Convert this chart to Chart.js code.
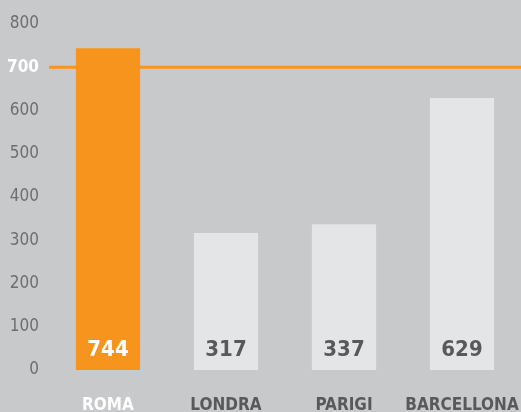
<!DOCTYPE html>
<html>
<head>
<meta charset="utf-8">
<script src="https://cdn.jsdelivr.net/npm/chart.js@4"></script>
<style>
  html, body { margin: 0; padding: 0; background: #c8c9cb; overflow: hidden; }
  #wrap { width: 521px; height: 412px; position: relative; }
</style>
</head>
<body>
<div id="wrap"><canvas id="myChart"></canvas></div>
<script>
const cities = ['ROMA', 'LONDRA', 'PARIGI', 'BARCELLONA'];
const values = [744, 317, 337, 629];
const target = 700;
const yTicks = [0, 100, 200, 300, 400, 500, 600, 700, 800];

const FONT = "'DejaVu Sans Condensed', sans-serif";
const ORANGE = '#f7941d';
const LIGHT = '#e4e5e7';
const DARK = '#58595b';

const ctx = document.getElementById('myChart');

// orange line at the target + numbers inside the bars
const extras = {
  id: 'extras',
  beforeDatasetsDraw(chart) {
    const c = chart.ctx, area = chart.chartArea;
    const y = chart.scales.y.getPixelForValue(target);
    c.save();
    c.strokeStyle = ORANGE;
    c.lineWidth = 3;
    c.beginPath();
    c.moveTo(area.left, y);
    c.lineTo(area.right + 1, y);
    c.stroke();
    c.restore();
  },
  afterDatasetsDraw(chart) {
    const c = chart.ctx;
    const meta = chart.getDatasetMeta(0);
    const y0 = chart.scales.y.getPixelForValue(0);
    c.save();
    c.font = 'bold 22px ' + FONT;
    c.textAlign = 'center';
    c.textBaseline = 'middle';
    meta.data.forEach((bar, i) => {
      c.fillStyle = i === 0 ? '#ffffff' : DARK;
      c.fillText(values[i], bar.x, y0 - 20);
    });
    c.restore();
  }
};

new Chart(ctx, {
  type: 'bar',
  data: {
    labels: cities,
    datasets: [{
      data: values,
      backgroundColor: values.map((v, i) => i === 0 ? ORANGE : LIGHT),
      borderWidth: 0,
      barPercentage: 0.544,
      categoryPercentage: 1
    }]
  },
  plugins: [extras],
  options: {
    responsive: true,
    maintainAspectRatio: false,
    animation: false,
    layout: { padding: { top: 24, right: 0, bottom: 0, left: 0 } },
    plugins: { legend: { display: false }, tooltip: { enabled: false } },
    scales: {
      x: {
        grid: { display: false, drawTicks: false },
        border: { display: false },
        afterFit(scale) {
          scale.height = 42;
          scale.paddingLeft = 0;
          scale.paddingRight = 0;
        },
        ticks: {
          padding: 25,
          maxRotation: 0,
          autoSkip: false,
          color: (c) => c.index === 0 ? '#ffffff' : DARK,
          font: { family: FONT, size: 17, weight: 'bold' }
        }
      },
      y: {
        min: 0,
        max: 800,
        grid: { display: false, drawTicks: false },
        border: { display: false },
        afterBuildTicks(scale) { scale.ticks = yTicks.map(v => ({ value: v })); },
        afterFit(scale) { scale.width = 49; },
        ticks: {
          padding: 10,
          color: (c) => c.tick && c.tick.value === target ? '#ffffff' : '#6d6e71',
          font: (c) => ({
            family: FONT,
            size: 17,
            weight: c.tick && c.tick.value === target ? 'bold' : 'normal'
          })
        }
      }
    }
  }
});
</script>
</body>
</html>
